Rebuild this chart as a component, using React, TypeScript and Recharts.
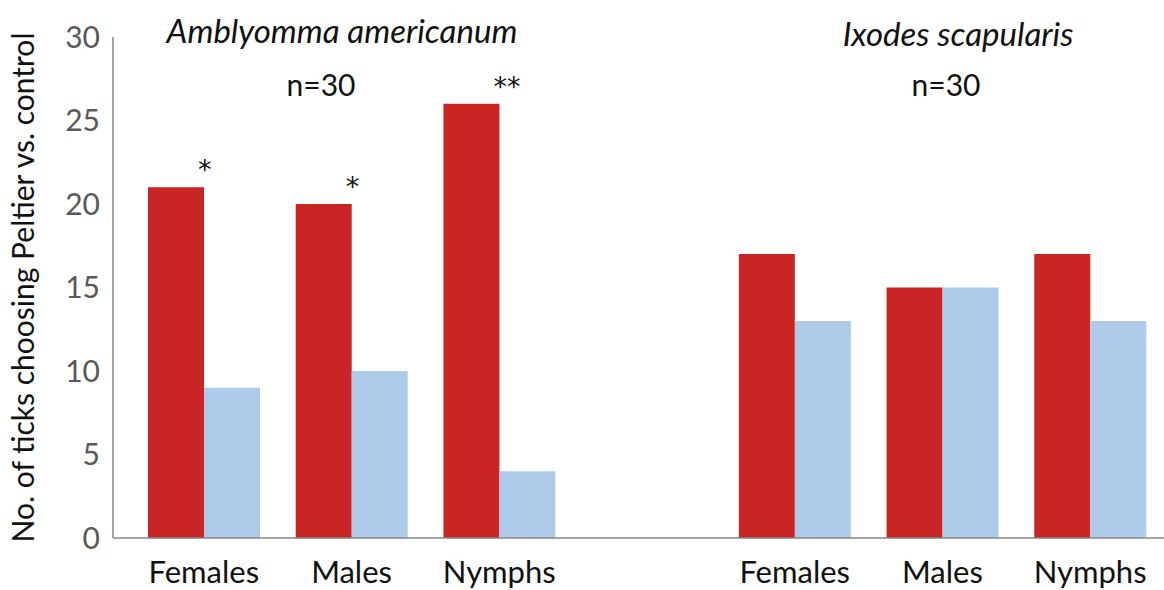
import { BarChart, Bar, XAxis, YAxis, LabelList } from 'recharts';

const categories = ['Females', 'Males', 'Nymphs', '', 'Females', 'Males', 'Nymphs'];
const peltier = [21, 20, 26, null, 17, 15, 17];
const control = [9, 10, 4, null, 13, 15, 13];
const significance = ['*', '*', '**', '', '', '', ''];
const yTicks = [0, 5, 10, 15, 20, 25, 30];

const FONT = 'Lato, "Open Sans", sans-serif';

const chartData = categories.map((name, i) => ({
  name,
  peltier: peltier[i],
  control: control[i],
  sig: significance[i],
}));

// asterisk drawn just past the right edge of the red bar
const renderSig = (props: any) => {
  const { x, y, width, value } = props;
  if (!value) return null;
  return (
    <text
      x={x + width - 6}
      y={y - 8}
      textAnchor="start"
      fill="#111"
      fontSize={27}
      fontFamily='"DejaVu Sans", sans-serif'
    >
      {value}
    </text>
  );
};

const textStyle: React.CSSProperties = {
  position: 'absolute',
  fontFamily: FONT,
  fontSize: 30,
  color: '#111',
  whiteSpace: 'nowrap',
  transform: 'translate(-50%, -50%)',
};

export default function App() {
  return (
    <div style={{ position: 'absolute', left: 0, top: 0, width: 1164, height: 590, background: '#fff' }}>
      <BarChart
        width={1164}
        height={590}
        data={chartData}
        margin={{ top: 37, right: 0, left: 0, bottom: 0 }}
        barGap={0}
        barSize={56}
      >
        <XAxis
          dataKey="name"
          height={52}
          padding={{ left: 17, right: 0 }}
          axisLine={{ stroke: '#868686', strokeWidth: 1.5 }}
          tickLine={false}
          tickSize={0}
          tickMargin={23}
          interval={0}
          tick={{ fill: '#111', fontSize: 31, fontFamily: FONT }}
        />
        <YAxis
          width={113}
          domain={[0, 30]}
          ticks={yTicks}
          interval={0}
          axisLine={{ stroke: '#868686', strokeWidth: 1.5 }}
          tickLine={false}
          tickSize={0}
          tickMargin={13}
          tick={{ fill: '#595959', fontSize: 30, fontFamily: FONT }}
          label={{
            value: 'No. of ticks choosing Peltier vs. control',
            angle: -90,
            position: 'insideLeft',
            offset: 0,
            dx: 23,
            style: { textAnchor: 'middle', fill: '#111', fontSize: 30, fontFamily: FONT },
          }}
        />
        <Bar dataKey="peltier" fill="#C82524" isAnimationActive={false}>
          <LabelList dataKey="sig" content={renderSig} />
        </Bar>
        <Bar dataKey="control" fill="#ADCBE8" isAnimationActive={false} />
      </BarChart>
      <div style={{ ...textStyle, left: 342, top: 30, fontSize: 33, fontStyle: 'italic' }}>Amblyomma americanum</div>
      <div style={{ ...textStyle, left: 321, top: 84 }}>n=30</div>
      <div style={{ ...textStyle, left: 958, top: 33, fontSize: 33, fontStyle: 'italic' }}>Ixodes scapularis</div>
      <div style={{ ...textStyle, left: 946, top: 84 }}>n=30</div>
    </div>
  );
}
